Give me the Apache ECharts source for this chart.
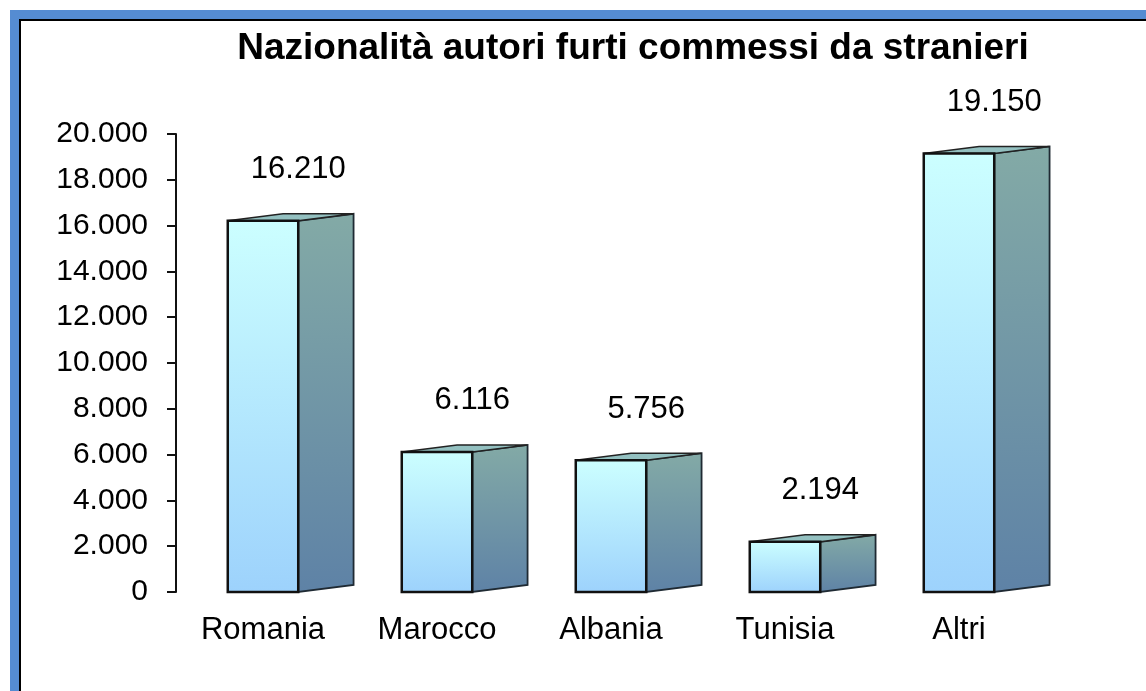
<!DOCTYPE html>
<html>
<head>
<meta charset="utf-8">
<script src="https://cdn.jsdelivr.net/npm/echarts@6/dist/echarts.min.js"></script>
<style>
html, body { margin: 0; padding: 0; background: #fff; }
#chart { width: 1146px; height: 691px; }
</style>
</head>
<body>
<div id="chart"></div>
<script>
// dati
var categories = ['Romania', 'Marocco', 'Albania', 'Tunisia', 'Altri'];
var values = [16210, 6116, 5756, 2194, 19150];

var FONT = '"Liberation Sans", Arial, sans-serif';

// separatore migliaia all'italiana
var fmt = function(v){
	return String(v).replace(/\B(?=(\d{3})+(?!\d))/g, '.');
};

var grad = function(c0, c1){
	return new echarts.graphic.LinearGradient(0, 0, 0, 1, [
		{offset: 0, color: c0}, {offset: 1, color: c1}
	]);
};

// disegna il parallelepipedo
var renderBox = function(params, api){
	var idx = api.value(0), val = api.value(1);
	var top = api.coord([idx, val]);
	var base = api.coord([idx, 0]);
	var band = api.size([1, 0])[0];
	var fw = band * 0.405, sw = band * 0.318, dy = 7;
	var x0 = top[0] - fw / 2, x1 = top[0] + fw / 2, x2 = x1 + sw;
	var yt = top[1], yb = base[1];
	return {
		type: 'group',
		children: [{
			type: 'polygon',
			shape: {points: [[x1, yt], [x2, yt - dy], [x2, yb - dy], [x1, yb]]},
			style: {fill: grad('#83aaa6', '#5e82a6'), stroke: '#1f2a33', lineWidth: 1.8}
		}, {
			type: 'polygon',
			shape: {points: [[x0, yt], [x1, yt], [x2, yt - dy], [x0 + sw, yt - dy]]},
			style: {fill: '#93c0c0', stroke: '#222', lineWidth: 1.5}
		}, {
			type: 'rect',
			shape: {x: x0, y: yt, width: fw, height: yb - yt},
			style: {fill: grad('#ccffff', '#9dd2fc'), stroke: '#111', lineWidth: 2.5}
		}, {
			type: 'text',
			x: x1, y: yt - 51,
			style: {
				text: fmt(val), fill: '#000', font: '31px ' + FONT,
				align: 'center', verticalAlign: 'middle'
			}
		}]
	};
};

var chart = echarts.init(document.getElementById('chart'), null, {renderer: 'canvas'});
chart.setOption({
	animation: false,
	backgroundColor: '#fff',
	title: {
		text: 'Nazionalità autori furti commessi da stranieri',
		left: 633, top: 30, padding: 0, textAlign: 'center',
		textStyle: {fontFamily: FONT, fontSize: 37, fontWeight: 'bold', color: '#000', lineHeight: 37}
	},
	graphic: [
		{type: 'rect', shape: {x: 10, y: 10, width: 1136, height: 9}, style: {fill: '#558cd2'}, z: 100},
		{type: 'rect', shape: {x: 10, y: 10, width: 9, height: 681}, style: {fill: '#558cd2'}, z: 100},
		{type: 'rect', shape: {x: 19, y: 19, width: 1127, height: 2}, style: {fill: '#000'}, z: 100},
		{type: 'rect', shape: {x: 19, y: 19, width: 2, height: 672}, style: {fill: '#000'}, z: 100}
	],
	grid: {left: 176, right: 100, top: 134, bottom: 99, containLabel: false},
	xAxis: {
		type: 'category',
		data: categories,
		axisLine: {show: false},
		axisTick: {show: false},
		axisLabel: {margin: 23, color: '#000', fontFamily: FONT, fontSize: 31, lineHeight: 31}
	},
	yAxis: {
		type: 'value',
		min: 0, max: 20000, interval: 2000,
		axisLine: {show: true, lineStyle: {color: '#111', width: 2}},
		axisTick: {show: true, length: 9, lineStyle: {color: '#111', width: 2}},
		splitLine: {show: false},
		axisLabel: {margin: 28, color: '#000', fontFamily: FONT, fontSize: 30, formatter: fmt}
	},
	series: [{
		type: 'custom',
		renderItem: renderBox,
		encode: {x: 0, y: 1},
		data: values.map(function(v, i){ return [i, v]; }),
		clip: false
	}]
});
</script>
</body>
</html>
